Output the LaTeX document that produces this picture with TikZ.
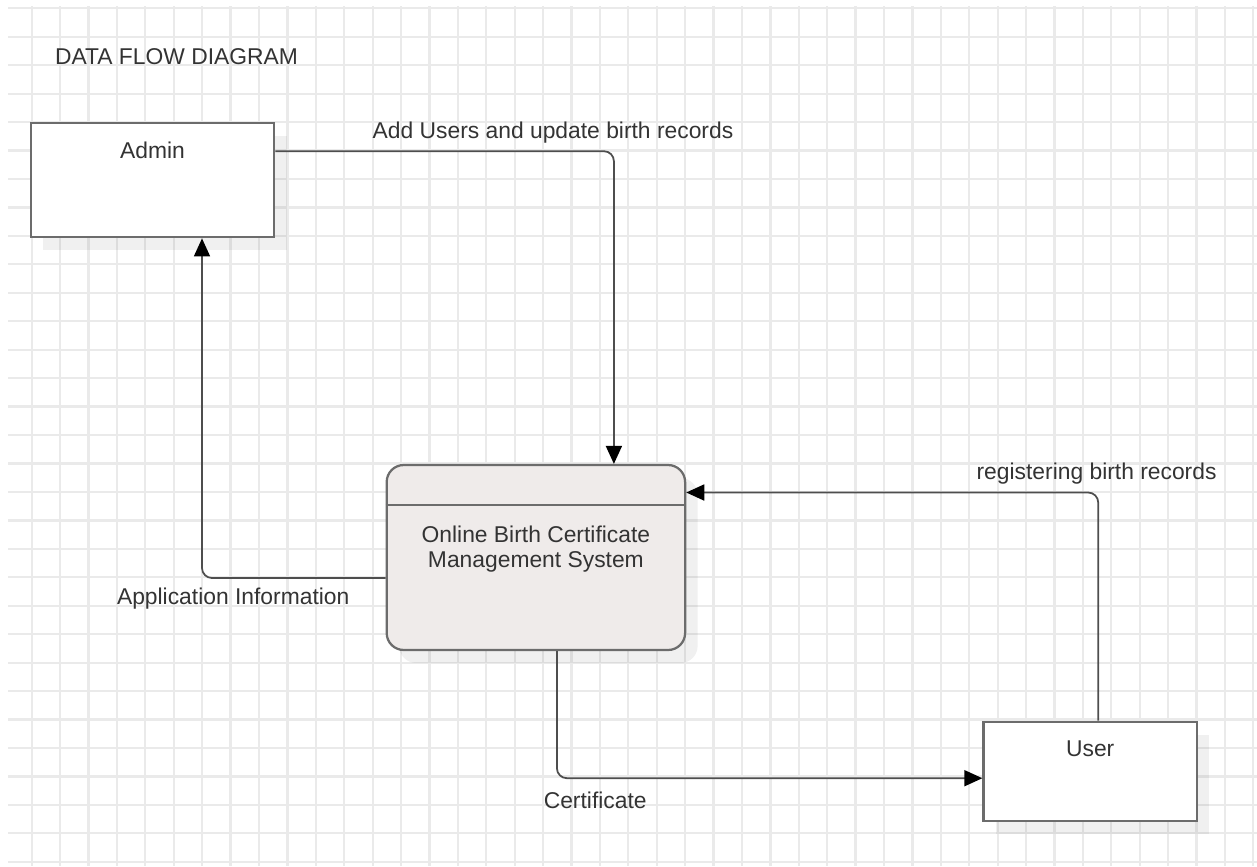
\documentclass[tikz,border=0pt]{standalone}
\usepackage{fontspec}
\setmainfont{Liberation Sans}
\usetikzlibrary{arrows.meta, calc, positioning, shadows}
\definecolor{gridgray}{RGB}{234,234,234}
\definecolor{txtgray}{RGB}{51,51,51}
\definecolor{boxgray}{RGB}{108,108,108}
\definecolor{linegray}{RGB}{78,78,78}
\definecolor{procfill}{RGB}{239,235,234}

\begin{document}
\begin{tikzpicture}[x=0.02cm, y=-0.02cm, font=\fontsize{13}{13.8}\selectfont, text=txtgray,
    entity/.style={draw=boxgray, line width=0.045cm, fill=white, rectangle, inner sep=0pt,
        drop shadow={shadow xshift=0.25cm, shadow yshift=-0.26cm, fill=black, opacity=0.06}},
    process/.style={draw=boxgray, line width=0.045cm, fill=procfill, rectangle, rounded corners=0.34cm, inner sep=0pt,
        drop shadow={shadow xshift=0.25cm, shadow yshift=-0.26cm, fill=black, opacity=0.06}},
    flow/.style={draw=linegray, line width=0.035cm, rounded corners=0.2cm, -{Triangle[length=0.36cm, width=0.32cm, color=black]}},
    lbl/.style={inner sep=0pt, align=center}]
    \useasboundingbox (0,0) rectangle (1257,866);
    % Grid of the drawing canvas
    \foreach \i in {1,...,44}
        \draw[gridgray, line width=0.045cm] (3.3+28.41*\i,6) -- (3.3+28.41*\i,866);
    \foreach \j in {0,...,30}
        \draw[gridgray, line width=0.045cm] (8,8.3+28.45*\j) -- (1257,8.3+28.45*\j);
    % Title
    \node (title) [lbl, anchor=base] at (176.5,64) {DATA FLOW DIAGRAM};
    % External entities and the process
    \node (admin) [entity, minimum width=4.87cm, minimum height=2.28cm, label={[lbl, anchor=base, yshift=-0.72cm]north:Admin}] at (152.5,180.3) {};
    \node (obcms) [process, minimum width=5.97cm, minimum height=3.7cm, label={[lbl, anchor=north, yshift=-1.24cm]north:Online Birth Certificate\\Management System}] at (535.9,557.5) {};
    \draw[draw=boxgray, line width=0.045cm] ($(obcms.north west)+(0,41)$) -- ($(obcms.north east)+(0,41)$);
    \node (user) [entity, minimum width=4.27cm, minimum height=1.98cm, label={[lbl, anchor=base, yshift=-0.71cm]north:User}] at (1090.2,771.2) {};
    % Data flows
    \draw[flow] ($(admin.north east)+(0,29)$) -| ($(obcms.north)+(78,0)$) node[lbl, anchor=base, pos=0.41, yshift=0.254cm] (addlbl) {Add Users and update birth records};
    \draw[flow] ($(obcms.west)+(0,20.5)$) -| ($(admin.south)+(49.5,0)$) node[lbl, anchor=base, pos=0.415, yshift=-0.53cm] (applbl) {Application Information};
    \draw[flow] ($(obcms.south)+(21,0)$) |- ($(user.west)+(0,7)$) node[lbl, anchor=base, pos=0.545, yshift=-0.6cm] (certlbl) {Certificate};
    \draw[flow] ($(user.north)+(8,0)$) |- ($(obcms.east)+(0,-65)$) node[lbl, anchor=base, pos=0.502, yshift=0.27cm] (reglbl) {registering birth records};
\end{tikzpicture}
\end{document}
